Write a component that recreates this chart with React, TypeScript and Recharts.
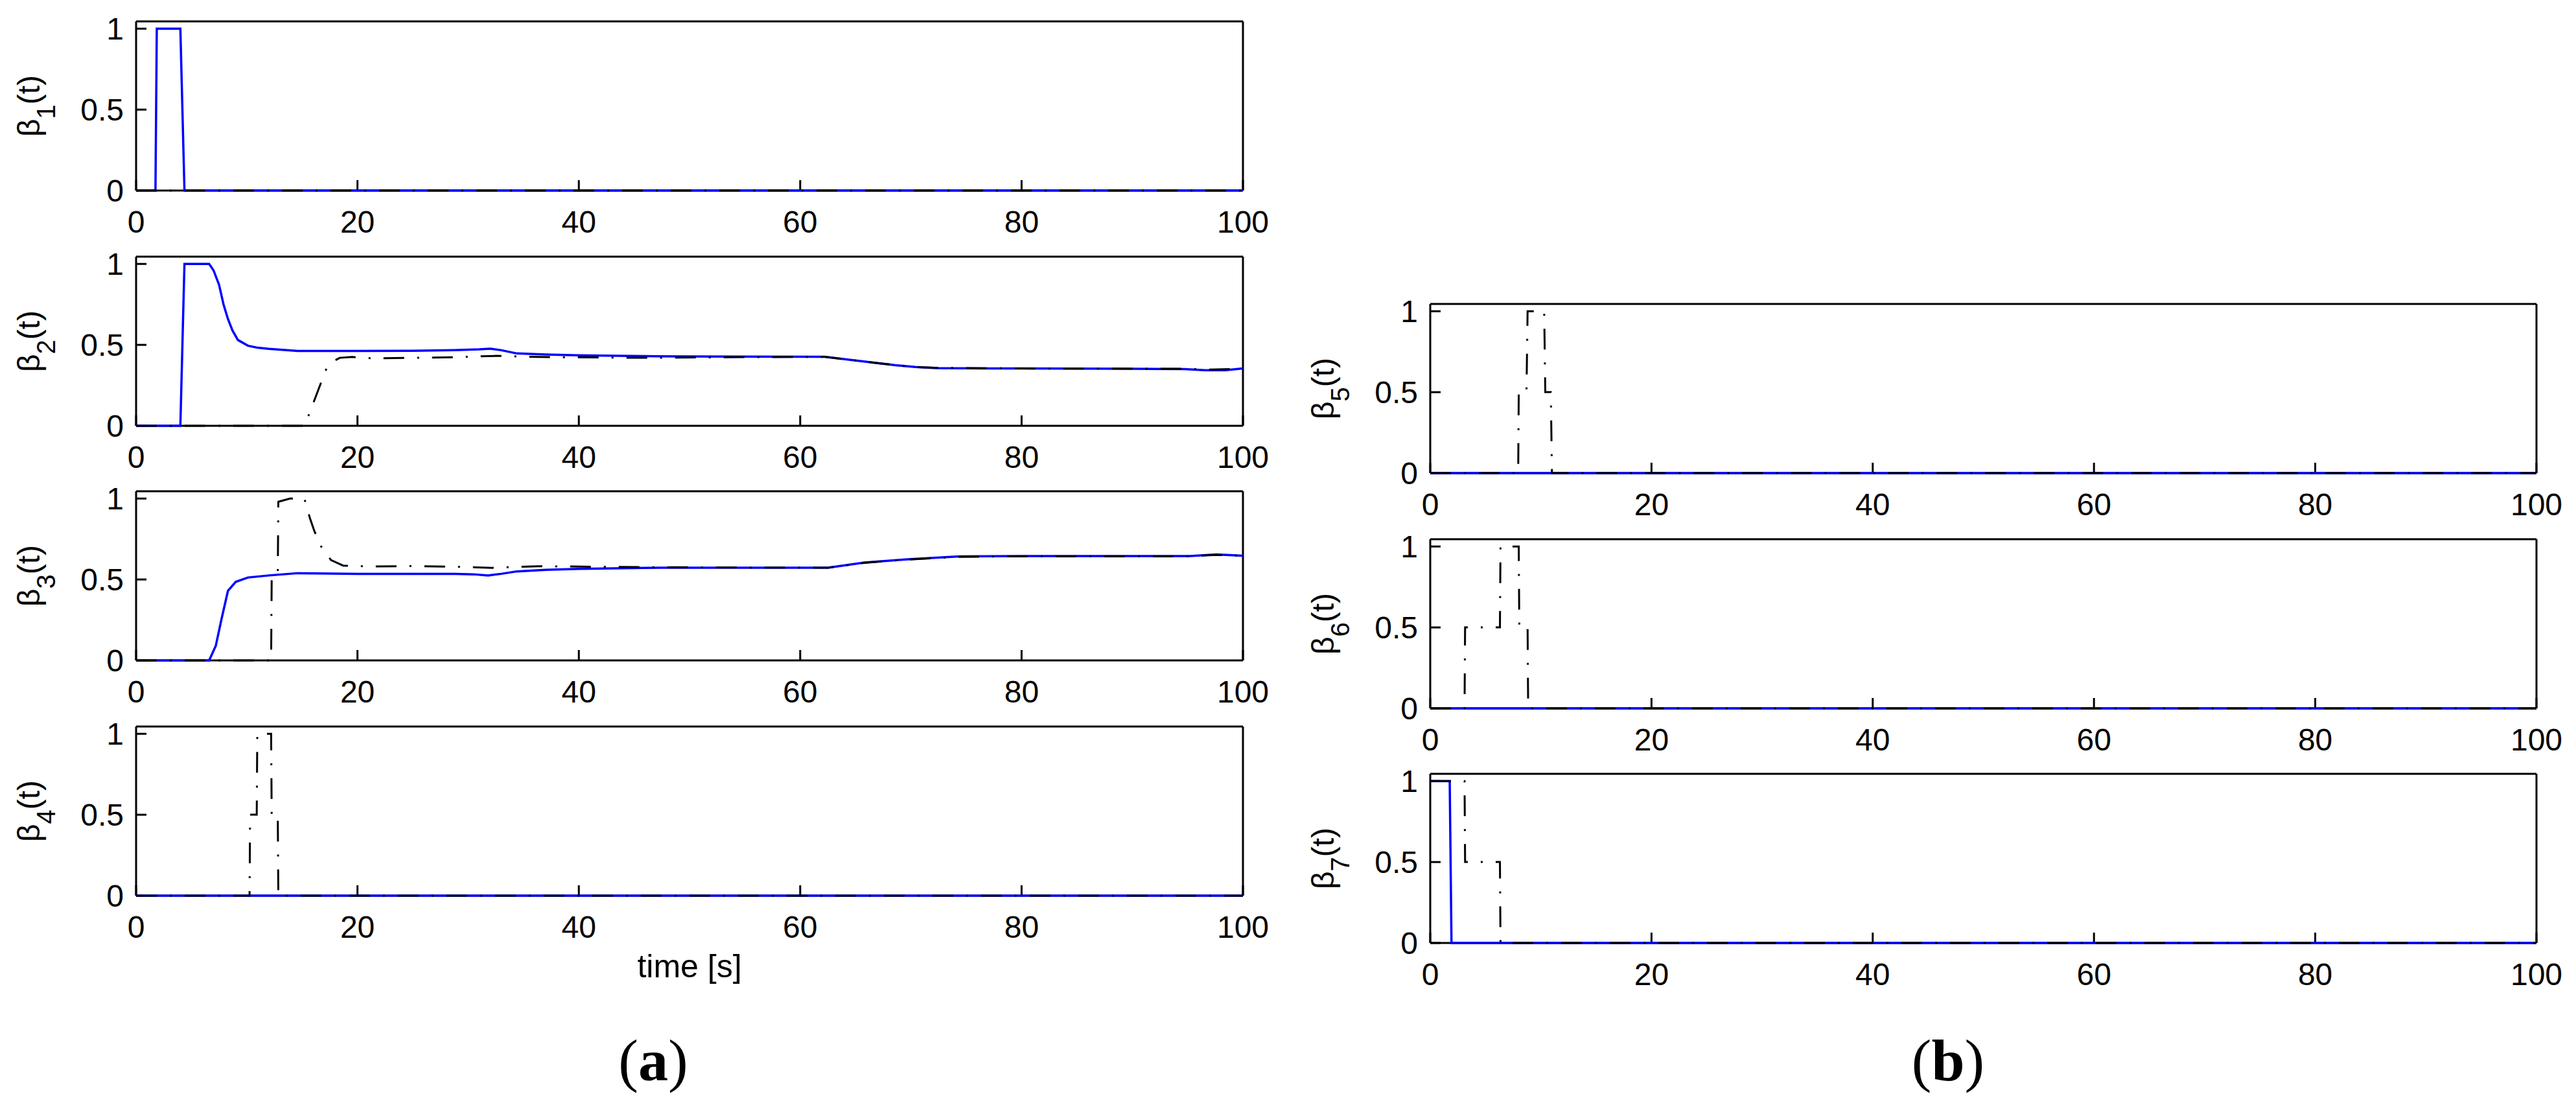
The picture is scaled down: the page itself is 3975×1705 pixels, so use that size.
import { LineChart, Line, XAxis, YAxis } from 'recharts';

type Pt = [number, number];

const timeTicks = [0, 20, 40, 60, 80, 100];
const betaTicks = [0, 0.5, 1];

// beta_1
const beta1Solid: Pt[] = [[0, 0], [1.75, 0], [1.87, 1], [4.0, 1], [4.37, 0], [100, 0]];
const beta1DashDot: Pt[] = [[0, 0], [100, 0]];

// beta_2
const beta2Solid: Pt[] = [
  [0, 0], [4.0, 0], [4.37, 1], [6.6, 1], [7.0, 0.96], [7.5, 0.87], [7.9, 0.75], [8.3, 0.66],
  [8.7, 0.59], [9.2, 0.53], [10.1, 0.495], [11, 0.482], [12, 0.475], [14.6, 0.462], [20, 0.462],
  [25, 0.463], [28.8, 0.467], [31, 0.472], [32, 0.476], [33, 0.467], [34.4, 0.447], [37, 0.44],
  [40, 0.435], [46, 0.43], [50, 0.428], [55, 0.427], [62.2, 0.426], [64.9, 0.404], [67.1, 0.386],
  [68.6, 0.374], [70.4, 0.363], [72.3, 0.356], [79.8, 0.354], [90, 0.352], [94.7, 0.35],
  [96.6, 0.343], [98.4, 0.343], [100, 0.354],
];
const beta2DashDot: Pt[] = [
  [0, 0], [15.3, 0], [15.6, 0.067], [17.2, 0.354], [17.6, 0.39], [18.4, 0.42], [19.5, 0.425],
  [21.3, 0.417], [25, 0.42], [28.8, 0.424], [32.5, 0.432], [36.3, 0.425], [46, 0.42], [55, 0.424],
  [62.2, 0.426], [64.9, 0.404], [67.1, 0.386], [70.4, 0.363], [72.3, 0.358], [80, 0.354],
  [95, 0.352], [97, 0.347], [100, 0.352],
];

// beta_3
const beta3Solid: Pt[] = [
  [0, 0], [6.6, 0], [7.2, 0.09], [7.7, 0.25], [8.3, 0.43], [9.0, 0.485], [10.1, 0.512], [12, 0.525],
  [14.6, 0.539], [20, 0.535], [28.8, 0.535], [30.5, 0.532], [31.8, 0.525], [33, 0.535], [34.4, 0.55],
  [37, 0.56], [40, 0.566], [46, 0.572], [55, 0.573], [62.5, 0.573], [65.8, 0.605], [69.7, 0.625],
  [74.4, 0.643], [80, 0.645], [95.2, 0.645], [97.6, 0.655], [100, 0.647],
];
const beta3DashDot: Pt[] = [
  [0, 0], [12.2, 0], [12.25, 0.5], [12.8, 0.52], [12.85, 0.98], [13.9, 1.0], [15.2, 1.0],
  [15.7, 0.88], [16.1, 0.8], [16.7, 0.706], [17.6, 0.62], [18.7, 0.586], [21.3, 0.58], [25, 0.583],
  [28.8, 0.579], [32.2, 0.572], [36.3, 0.582], [46, 0.576], [55, 0.574], [62.5, 0.573],
  [65.8, 0.603], [69.7, 0.623], [74.4, 0.64], [80, 0.643], [95, 0.643], [97.6, 0.652], [100, 0.647],
];

// beta_4
const beta4Solid: Pt[] = [[0, 0], [100, 0]];
const beta4DashDot: Pt[] = [
  [0, 0], [10.25, 0], [10.3, 0.5], [10.9, 0.5], [10.95, 1], [12.2, 1], [12.25, 0.5], [12.8, 0.5],
  [12.85, 0], [100, 0],
];

// beta_5
const beta5Solid: Pt[] = [[0, 0], [100, 0]];
const beta5DashDot: Pt[] = [
  [0, 0], [7.95, 0], [8.0, 0.5], [8.7, 0.5], [8.8, 1], [10.3, 1], [10.4, 0.5], [10.9, 0.5],
  [11.0, 0], [100, 0],
];

// beta_6
const beta6Solid: Pt[] = [[0, 0], [100, 0]];
const beta6DashDot: Pt[] = [
  [0, 0], [3.1, 0], [3.15, 0.5], [6.3, 0.5], [6.35, 1], [8.0, 1], [8.05, 0.5], [8.8, 0.5],
  [8.85, 0], [100, 0],
];

// beta_7
const beta7Solid: Pt[] = [[0, 1], [1.76, 1], [1.92, 0], [100, 0]];
const beta7DashDot: Pt[] = [[0, 1], [3.1, 1], [3.15, 0.5], [6.3, 0.5], [6.35, 0], [100, 0]];

const PLOT_H = 261;
const TOP_PAD = 40;
const Y_MAX = 1.045;

const toRows = (pts: Pt[]) => pts.map(([t, v]) => ({ t, v }));

function BetaLabel({ n, cx, cy }: { n: number; cx: number; cy: number }) {
  return (
    <text
      x={cx}
      y={cy}
      transform={`rotate(-90, ${cx}, ${cy})`}
      textAnchor="middle"
      fontSize={48}
      fill="#000"
    >
      β<tspan dy={24} fontSize={40}>{n}</tspan>
      <tspan dy={-24}>(t)</tspan>
    </text>
  );
}

interface PanelProps {
  n: number;
  solid: Pt[];
  dashDot: Pt[];
  plotLeft: number;
  plotTop: number;
  plotWidth: number;
  xLabel?: string;
}

function Panel({ n, solid, dashDot, plotLeft, plotTop, plotWidth, xLabel }: PanelProps) {
  const axisH = xLabel ? 150 : 100;
  const w = plotWidth + 260;
  const h = PLOT_H + TOP_PAD + axisH;
  const line = { stroke: '#000', strokeWidth: 3 };
  return (
    <div style={{ position: 'absolute', left: plotLeft - 200, top: plotTop - TOP_PAD }}>
      <LineChart width={w} height={h} margin={{ top: TOP_PAD - 1, right: 59, left: 60, bottom: 0 }}>
        <XAxis
          type="number"
          dataKey="t"
          domain={[0, 100]}
          ticks={timeTicks}
          interval={0}
          height={axisH}
          tickSize={-16}
          tickMargin={47}
          axisLine={line}
          tickLine={line}
          tick={{ fill: '#000', fontSize: 48 }}
          label={xLabel ? { value: xLabel, position: 'insideBottom', offset: axisH - 126, fill: '#000', fontSize: 50 } : undefined}
        />
        <XAxis
          xAxisId="top"
          orientation="top"
          type="number"
          dataKey="t"
          domain={[0, 100]}
          ticks={timeTicks}
          interval={0}
          height={1}
          tickSize={-16}
          axisLine={line}
          tickLine={line}
          tick={false}
        />
        <YAxis
          type="number"
          domain={[0, Y_MAX]}
          ticks={betaTicks}
          interval={0}
          width={140}
          tickSize={-16}
          tickMargin={35}
          axisLine={line}
          tickLine={line}
          tick={{ fill: '#000', fontSize: 48 }}
          label={<BetaLabel n={n} cx={51} cy={TOP_PAD + PLOT_H / 2} />}
        />
        <YAxis
          yAxisId="right"
          orientation="right"
          type="number"
          domain={[0, Y_MAX]}
          ticks={betaTicks}
          interval={0}
          width={1}
          tickSize={-16}
          axisLine={line}
          tickLine={line}
          tick={false}
        />
        <Line
          data={toRows(solid)}
          dataKey="v"
          type="linear"
          stroke="#0000ff"
          strokeWidth={3.5}
          dot={false}
          activeDot={false}
          isAnimationActive={false}
          zIndex={600}
        />
        <Line
          data={toRows(dashDot)}
          dataKey="v"
          type="linear"
          stroke="#000"
          strokeWidth={3}
          strokeDasharray="32 20 3 20"
          dot={false}
          activeDot={false}
          isAnimationActive={false}
          zIndex={610}
        />
      </LineChart>
    </div>
  );
}

const LEFT_A = 210;
const LEFT_B = 2207;
const WIDTH_A = 1708;
const WIDTH_B = 1707;

export default function App() {
  return (
    <div
      style={{
        position: 'absolute',
        left: 0,
        top: 0,
        width: 3975,
        height: 1705,
        background: '#fff',
        fontFamily: '"Liberation Sans", Arial, sans-serif',
      }}
    >
      <Panel n={1} solid={beta1Solid} dashDot={beta1DashDot} plotLeft={LEFT_A} plotTop={33} plotWidth={WIDTH_A} />
      <Panel n={2} solid={beta2Solid} dashDot={beta2DashDot} plotLeft={LEFT_A} plotTop={396} plotWidth={WIDTH_A} />
      <Panel n={3} solid={beta3Solid} dashDot={beta3DashDot} plotLeft={LEFT_A} plotTop={758} plotWidth={WIDTH_A} />
      <Panel n={4} solid={beta4Solid} dashDot={beta4DashDot} plotLeft={LEFT_A} plotTop={1121} plotWidth={WIDTH_A} xLabel="time [s]" />
      <Panel n={5} solid={beta5Solid} dashDot={beta5DashDot} plotLeft={LEFT_B} plotTop={469} plotWidth={WIDTH_B} />
      <Panel n={6} solid={beta6Solid} dashDot={beta6DashDot} plotLeft={LEFT_B} plotTop={832} plotWidth={WIDTH_B} />
      <Panel n={7} solid={beta7Solid} dashDot={beta7DashDot} plotLeft={LEFT_B} plotTop={1194} plotWidth={WIDTH_B} />
      <div style={{ position: 'absolute', left: 808, top: 1590, width: 400, textAlign: 'center', fontFamily: '"Liberation Serif", "Times New Roman", serif', fontSize: 92, lineHeight: '92px' }}>
        (<b>a</b>)
      </div>
      <div style={{ position: 'absolute', left: 2806, top: 1590, width: 400, textAlign: 'center', fontFamily: '"Liberation Serif", "Times New Roman", serif', fontSize: 92, lineHeight: '92px' }}>
        (<b>b</b>)
      </div>
    </div>
  );
}
